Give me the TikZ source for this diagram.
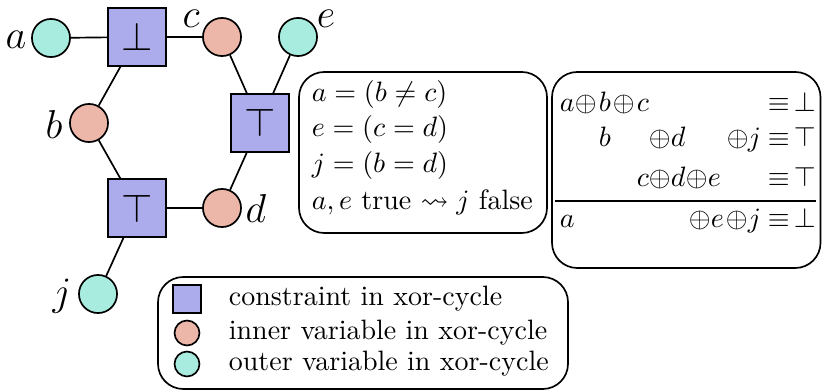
\documentclass[tikz,border=0pt]{standalone}
\usepackage{amssymb}
\definecolor{conscol}{RGB}{172,172,236}
\definecolor{innercol}{RGB}{236,182,168}
\definecolor{outercol}{RGB}{168,236,224}
\begin{document}
\begin{tikzpicture}[x=0.357pt,y=-0.357pt, line width=0.6pt,
  cons/.style={draw, fill=conscol, minimum size=20.7pt, inner sep=0pt, font=\Large},
  innv/.style={draw, circle, fill=innercol, minimum size=13.6pt, inner sep=0pt},
  outv/.style={draw, circle, fill=outercol, minimum size=13.6pt, inner sep=0pt},
  lab/.style={font=\Large, inner sep=0pt},
  roundbox/.style={draw, rounded corners=9pt},
  eq/.style={anchor=mid west, inner sep=0pt},
  txt/.style={anchor=mid west, inner sep=0pt}]
\useasboundingbox (0,0) rectangle (822,391);

% graph
\node[outv] (a) at (51,38) {};
\node[cons] (f) at (137,37) {$\bot$};
\node[innv] (c) at (222,37) {};
\node[outv] (e) at (298,37) {};
\node[cons] (g) at (260,123) {$\top$};
\node[innv] (b) at (89,123) {};
\node[cons] (h) at (137,208) {$\top$};
\node[innv] (d) at (222,208) {};
\node[outv] (j) at (98,294) {};

\draw (a) -- (f) (f) -- (c) (f) -- (b) (b) -- (h) (h) -- (d)
      (d) -- (g) (g) -- (c) (g) -- (e) (h) -- (j);

\node[lab] (la) at (16,40) {$a$};
\node[lab] (lb) at (54,124) {$b$};
\node[lab] (lc) at (191,19) {$c$};
\node[lab] (ld) at (256,208) {$d$};
\node[lab] (le) at (326,19) {$e$};
\node[lab] (lj) at (62,296) {$j$};

% box 1
\draw[roundbox] (299,72) rectangle (547,233);
\node[txt] (e1) at (311,95) {$a=(b\neq c)$};
\node[txt] (e2) at (311,130) {$e=(c=d)$};
\node[txt] (e3) at (311,166) {$j=(b=d)$};
\node[txt] (e4) at (311,203) {$a,e$ true $\leadsto j$ false};

% box 2
\draw[roundbox] (552,72) rectangle (820.5,268);
\foreach \x/\t [count=\i] in {559/a,574/\oplus,598/b,612/\oplus,636/c,767/\equiv,793/\bot}
  \node[eq] (ra\i) at (\x,105) {$\t$};
\foreach \x/\t [count=\i] in {598/b,648/\oplus,670/d,726/\oplus,747/j,767/\equiv,793/\top}
  \node[eq] (rb\i) at (\x,140) {$\t$};
\foreach \x/\t [count=\i] in {636/c,648/\oplus,670/d,685/\oplus,707/e,767/\equiv,793/\top}
  \node[eq] (rc\i) at (\x,180) {$\t$};
\draw[line width=0.5pt] (555,201) -- (816,201);
\foreach \x/\t [count=\i] in {559/a,688/\oplus,710/e,725/\oplus,747/j,767/\equiv,793/\bot}
  \node[eq] (rd\i) at (\x,221) {$\t$};

% legend
\draw[roundbox] (158,277) rectangle (568,389);
\node[cons, minimum size=10pt] (k1) at (187,299) {};
\node[innv, minimum size=8.9pt] (k2) at (187,333) {};
\node[outv, minimum size=8.9pt] (k3) at (187,364) {};
\node[txt] (t1) at (228,299) {constraint in xor-cycle};
\node[txt] (t2) at (228,333) {inner variable in xor-cycle};
\node[txt] (t3) at (228,364) {outer variable in xor-cycle};
\end{tikzpicture}
\end{document}
